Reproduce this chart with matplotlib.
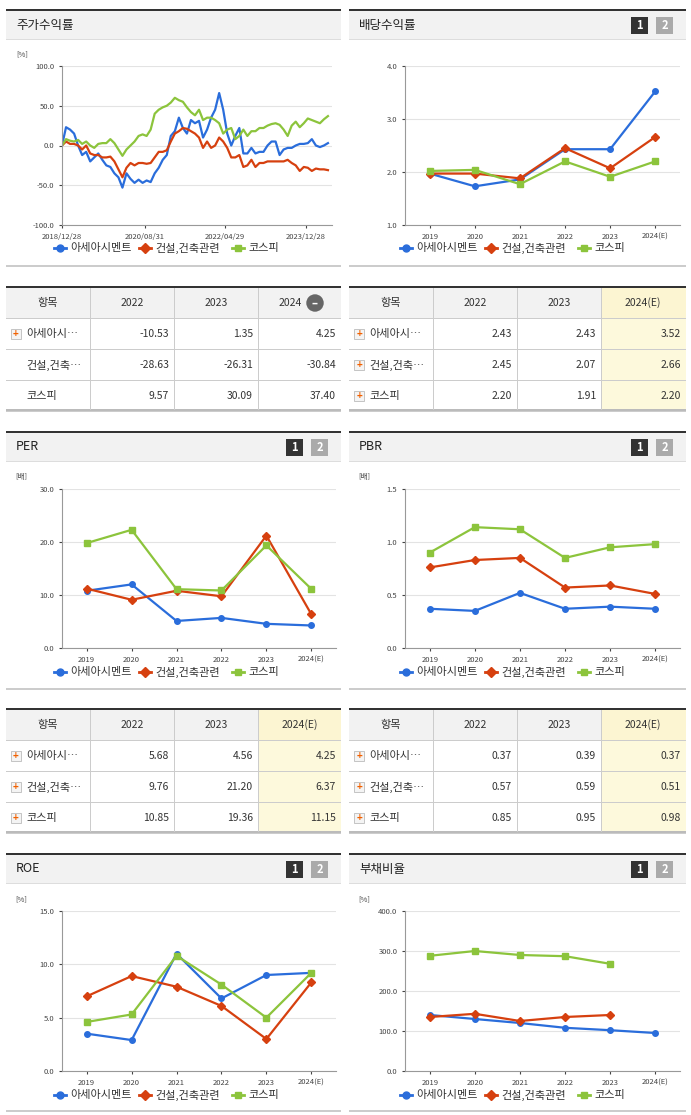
import numpy as np
import matplotlib
matplotlib.use('Agg')
import matplotlib.pyplot as plt
from matplotlib.patches import Rectangle

plt.rcParams['font.family'] = ['Noto Sans CJK KR', 'DejaVu Sans']

W, H = 691, 1115
names = ['아세아시멘트', '건설,건축관련', '코스피']
colors = ['#2a6ddb', '#d6400f', '#8cc43c']
markers = ['o', 'D', 's']

# 주가수익률 (monthly, %)
ret_blue = [0, 23, 20, 15, 0, -12, -8, -20, -15, -10, -18, -25, -27, -35, -40, -53, -35, -42, -47, -43,
            -47, -44, -46, -35, -28, -18, -12, 12, 18, 35, 22, 15, 32, 28, 31, 10, 20, 35, 45, 66,
            45, 15, 0, 12, 22, -10, -10, -3, -10, -8, -8, 0, 5, 5, -12, -5, -3, -3, 0, 2,
            2, 3, 8, 0, -2, 0, 3]
ret_red = [0, 5, 2, 2, 0, -5, 0, -10, -12, -12, -15, -15, -14, -20, -30, -40, -28, -22, -25, -22,
           -22, -23, -22, -15, -8, -8, -6, 5, 15, 18, 22, 21, 18, 15, 10, -3, 5, -3, 0, 10,
           5, -3, -15, -15, -12, -27, -25, -18, -27, -22, -22, -20, -20, -20, -20, -20, -18, -22, -25, -32,
           -27, -28, -32, -29, -30, -30, -31]
ret_green = [0, 8, 6, 5, 7, 2, 5, 0, -3, 2, 3, 3, 8, 3, -5, -13, -5, 0, 5, 12,
             14, 12, 20, 40, 45, 48, 50, 54, 60, 57, 55, 48, 42, 38, 45, 32, 35, 35, 32, 28,
             15, 20, 22, 8, 12, 20, 12, 18, 18, 22, 22, 25, 27, 28, 26, 20, 12, 25, 30, 23,
             28, 34, 32, 30, 28, 33, 37]
ret_ticks = ['2018/12/28', '2020/08/31', '2022/04/29', '2023/12/28']

years = ['2019', '2020', '2021', '2022', '2023', '2024(E)']
div = [[1.97, 1.73, 1.86, 2.43, 2.43, 3.52], [1.97, 1.97, 1.88, 2.45, 2.07, 2.66], [2.02, 2.04, 1.77, 2.20, 1.91, 2.20]]
per = [[10.8, 12.0, 5.1, 5.68, 4.56, 4.25], [11.2, 9.1, 10.8, 9.76, 21.2, 6.37], [19.8, 22.3, 11.1, 10.85, 19.36, 11.15]]
pbr = [[0.37, 0.35, 0.52, 0.37, 0.39, 0.37], [0.76, 0.83, 0.85, 0.57, 0.59, 0.51], [0.90, 1.14, 1.12, 0.85, 0.95, 0.98]]
roe = [[3.5, 2.9, 11.0, 6.8, 9.0, 9.2], [7.0, 8.9, 7.9, 6.1, 3.0, 8.3], [4.6, 5.3, 10.8, 8.1, 5.0, 9.2]]
debt = [[140, 130, 120, 108, 102, 95], [135, 143, 125, 135, 140], [288, 300, 290, 287, 268]]

tbl_ret = [['-10.53', '1.35', '4.25'], ['-28.63', '-26.31', '-30.84'], ['9.57', '30.09', '37.40']]
tbl_div = [['2.43', '2.43', '3.52'], ['2.45', '2.07', '2.66'], ['2.20', '1.91', '2.20']]
tbl_per = [['5.68', '4.56', '4.25'], ['9.76', '21.20', '6.37'], ['10.85', '19.36', '11.15']]
tbl_pbr = [['0.37', '0.39', '0.37'], ['0.57', '0.59', '0.51'], ['0.85', '0.95', '0.98']]
row_names = ['아세아시…', '건설,건축…', '코스피']

fig = plt.figure(figsize=(W / 100, H / 100), dpi=100)


def fx(x):
    return x / W


def fy(y):
    return 1 - y / H


def box(x0, y0, x1, y1, **kw):
    fig.patches.append(Rectangle((fx(x0), fy(y1)), fx(x1 - x0), (y1 - y0) / H,
                                 transform=fig.transFigure, **kw))


def header(x0, x1, y0, title, pager=True):
    box(x0, y0, x1, y0 + 30, facecolor='#f2f2f2', edgecolor='none')
    box(x0, y0, x1, y0 + 2, facecolor='#333333', edgecolor='none')
    box(x0, y0 + 30, x1, y0 + 31, facecolor='#dddddd', edgecolor='none')
    fig.text(fx(x0 + 10), fy(y0 + 16), title, fontsize=9, va='center', color='#222')
    if pager:
        for i, (c, t) in enumerate([('#333333', '1'), ('#aaaaaa', '2')]):
            bx = x1 - 55 + i * 25
            box(bx, y0 + 8, bx + 17, y0 + 25, facecolor=c, edgecolor='none')
            fig.text(fx(bx + 8.5), fy(y0 + 16.5), t, color='white', fontsize=8,
                     ha='center', va='center', weight='bold')


def legend(cx, y):
    xs = [cx - 120, cx - 35, cx + 58]
    for x, n, c, m in zip(xs, names, colors, markers):
        fig.lines.append(plt.Line2D([fx(x), fx(x + 12)], [fy(y)] * 2, color=c, lw=2,
                                    transform=fig.transFigure))
        fig.lines.append(plt.Line2D([fx(x + 6)], [fy(y)], color=c, marker=m, ms=5,
                                    transform=fig.transFigure))
        fig.text(fx(x + 16), fy(y), n, fontsize=8, va='center', color='#333')


def style_ax(ax, unit):
    for s in ['top', 'right']:
        ax.spines[s].set_visible(False)
    ax.spines['left'].set_color('#999')
    ax.spines['bottom'].set_color('#999')
    ax.yaxis.grid(True, color='#e3e3e3', lw=0.8)
    ax.set_axisbelow(True)
    ax.tick_params(labelsize=5.5, length=2, colors='#444')
    ax.text(-0.17, 1.06, unit, transform=ax.transAxes, fontsize=5.5, color='#444')


def cat_chart(rect, data, ylim, yt, fmt, unit):
    x0, y0, x1, y1 = rect
    ax = fig.add_axes([fx(x0), fy(y1), fx(x1 - x0), (y1 - y0) / H])
    for d, c, m in zip(data, colors, markers):
        ax.plot(np.arange(len(d)), d, color=c, marker=m, ms=4, lw=1.6)
    ax.set_xlim(-0.55, 5.55)
    ax.set_ylim(*ylim)
    ax.set_yticks(yt)
    ax.set_yticklabels([fmt % v for v in yt])
    ax.set_xticks(range(6))
    ax.set_xticklabels(years)
    style_ax(ax, unit)
    return ax


def table(x0, x1, y0, cols, rows, hl):
    cw = [84, 84, 84, x1 - x0 - 252]
    xs = np.cumsum([x0] + cw)
    box(x0, y0, x1, y0 + 2, facecolor='#333333', edgecolor='none')
    box(x0, y0 + 2, x1, y0 + 32, facecolor='#f2f2f2', edgecolor='none')
    if hl:
        box(xs[3], y0 + 2, x1, y0 + 32, facecolor='#fcf5d2', edgecolor='none')
        box(xs[3], y0 + 32, x1, y0 + 125, facecolor='#fdf9dc', edgecolor='none')
    for r in range(1, 5):
        yy = y0 + 1 + 31 * r
        box(x0, yy, x1, yy + 1, facecolor='#cccccc', edgecolor='none')
    box(x0, y0 + 123, x1, y0 + 125, facecolor='#bbbbbb', edgecolor='none')
    for x in xs[1:4]:
        box(x, y0 + 2, x + 1, y0 + 124, facecolor='#cccccc', edgecolor='none')
    fig.text(fx(x0 + 42), fy(y0 + 17), '항목', fontsize=8, ha='center', va='center', color='#333')
    for i, c in enumerate(cols):
        cx = xs[i + 1] + 42
        if i == 2 and not hl:
            cx -= 10
        fig.text(fx(cx), fy(y0 + 17), c, fontsize=7.5, ha='center', va='center', color='#333')
    if not hl:
        fig.text(fx(xs[3] + 57), fy(y0 + 17), '–', fontsize=8, color='white', ha='center',
                 va='center', weight='bold',
                 bbox=dict(boxstyle='circle,pad=0.2', fc='#666', ec='none'))
    for r, (nm, vals) in enumerate(zip(row_names, rows)):
        yc = y0 + 48 + 31 * r
        plus = hl or r == 0
        if plus:
            box(x0 + 5, yc - 5, x0 + 15, yc + 5, facecolor='#f4f4f4', edgecolor='#bbbbbb', lw=0.6)
            fig.text(fx(x0 + 10), fy(yc), '+', fontsize=7, ha='center', va='center',
                     color='#f06000', weight='bold')
        fig.text(fx(x0 + 20), fy(yc), nm, fontsize=8, va='center', color='#333')
        for i, v in enumerate(vals):
            fig.text(fx(xs[i + 2] - 5), fy(yc), v, fontsize=7.5, ha='right', va='center', color='#333')


# ---- row 1
header(6, 341, 9, '주가수익률', pager=False)
header(349, 686, 9, '배당수익률')
ax = fig.add_axes([fx(62), fy(225), fx(270), 159 / H])
for d, c in zip([ret_blue, ret_red, ret_green], colors):
    ax.plot(np.arange(len(d)), d, color=c, lw=1.6)
ax.set_ylim(-100, 100)
ax.set_yticks([-100, -50, 0, 50, 100])
ax.set_yticklabels(['-100.0', '-50.0', '0.0', '50.0', '100.0'])
ax.set_xlim(0, 67)
ax.set_xticks([0, 20.5, 40.5, 60.5])
ax.set_xticklabels(ret_ticks)
style_ax(ax, '[%]')
legend(174, 248)

cat_chart((405, 66, 680, 225), div, (1.0, 4.0), [1.0, 2.0, 3.0, 4.0], '%.1f', '')
legend(520, 248)
box(6, 265, 341, 267, facecolor='#cccccc', edgecolor='none')
box(349, 265, 686, 267, facecolor='#cccccc', edgecolor='none')

table(6, 341, 286, ['2022', '2023', '2024'], tbl_ret, False)
table(349, 686, 286, ['2022', '2023', '2024(E)'], tbl_div, True)

# ---- row 2
header(6, 341, 431, 'PER')
header(349, 686, 431, 'PBR')
cat_chart((62, 489, 336, 648), per, (0, 30), [0, 10, 20, 30], '%.1f', '[배]')
legend(174, 672)
cat_chart((405, 489, 680, 648), pbr, (0, 1.5), [0, 0.5, 1.0, 1.5], '%.1f', '[배]')
legend(520, 672)
box(6, 688, 341, 690, facecolor='#cccccc', edgecolor='none')
box(349, 688, 686, 690, facecolor='#cccccc', edgecolor='none')

table(6, 341, 708, ['2022', '2023', '2024(E)'], tbl_per, True)
table(349, 686, 708, ['2022', '2023', '2024(E)'], tbl_pbr, True)

# ---- row 3
header(6, 341, 853, 'ROE')
header(349, 686, 853, '부채비율')
cat_chart((62, 911, 336, 1071), roe, (0, 15), [0, 5, 10, 15], '%.1f', '[%]')
legend(174, 1095)
cat_chart((405, 911, 680, 1071), debt, (0, 400), [0, 100, 200, 300, 400], '%.1f', '[%]')
legend(520, 1095)
box(6, 1110, 341, 1112, facecolor='#cccccc', edgecolor='none')
box(349, 1110, 686, 1112, facecolor='#cccccc', edgecolor='none')

fig.savefig('out.png', dpi=100)
